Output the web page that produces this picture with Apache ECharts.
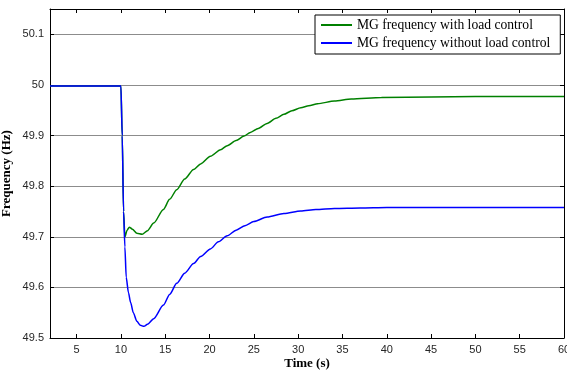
<!DOCTYPE html>
<html>
<head>
<meta charset="utf-8">
<script src="https://cdn.jsdelivr.net/npm/echarts@6/dist/echarts.min.js"></script>
<style>
html,body{margin:0;padding:0;background:#fff;}
#c{width:567px;height:370px;}
</style>
</head>
<body>
<div id="c"></div>
<script>
const seriesNames = ['MG frequency with load control', 'MG frequency without load control'];
const xTitle = 'Time (s)';
const yTitle = 'Frequency (Hz)';

const greenT = [2, 10.0, 10.15, 10.3, 10.45, 10.7, 10.95, 11.3, 11.8, 12.4, 13.0, 13.7, 14.8, 15.5, 16.3, 17.2, 18.2, 19.0, 20.1, 21.25, 22.0, 23.0, 23.9, 24.6, 25.5, 26.5, 27.5, 28.4, 29.3, 30.3, 31.2, 32.2, 34.1, 36.0, 39.4, 45, 50, 60];
const greenF = [49.998, 49.998, 49.9, 49.75, 49.700, 49.713, 49.719, 49.715, 49.707, 49.705, 49.712, 49.727, 49.754, 49.774, 49.793, 49.814, 49.833, 49.844, 49.859, 49.872, 49.880, 49.890, 49.899, 49.906, 49.914, 49.924, 49.934, 49.942, 49.949, 49.955, 49.959, 49.963, 49.968, 49.972, 49.975, 49.976, 49.977, 49.977];

const blueT = [2, 10.0, 10.15, 10.3, 10.45, 10.6, 10.85, 11.1, 11.4, 11.8, 12.2, 12.6, 13.0, 13.7, 14.8, 15.5, 16.3, 17.2, 18.2, 19.0, 20.1, 21.0, 22.0, 23.0, 24.0, 25.0, 26.5, 28.4, 30.3, 32.0, 34.1, 37.0, 40, 50, 60];
const blueF = [49.998, 49.998, 49.9, 49.75, 49.68, 49.62, 49.59, 49.57, 49.55, 49.533, 49.525, 49.523, 49.527, 49.538, 49.565, 49.586, 49.608, 49.628, 49.647, 49.661, 49.676, 49.690, 49.702, 49.713, 49.722, 49.730, 49.739, 49.746, 49.751, 49.754, 49.756, 49.757, 49.758, 49.758, 49.758];

const xRange = [2, 60];
const yRange = [49.5, 50.15];
const yStep = 0.1;

const chart = echarts.init(document.getElementById('c'));
const pairs = (t, f) => t.map((v, i) => [v, f[i]]);
const labelFont = {color: '#262626', fontSize: 11, fontFamily: 'Liberation Sans, Arial, sans-serif'};
const fmtY = v => (Math.abs(v * 10 - Math.round(v * 10)) < 1e-6 && v <= 50.1 + 1e-9) ? (Math.round(v * 10) / 10).toString() : '';
const fmtX = v => (v % 5 === 0) ? String(v) : '';

chart.setOption({
  animation: false,
  backgroundColor: '#fff',
  grid: {left: 50, right: 3, top: 9, bottom: 32, containLabel: false, outerBoundsMode: 'none'},
  legend: {
    orient: 'vertical', left: 315, top: 15,
    padding: [3, 10, 4, 6], itemGap: 4,
    backgroundColor: '#fff', borderColor: '#000', borderWidth: 1, borderRadius: 0,
    icon: 'rect', itemWidth: 31, itemHeight: 2,
    textStyle: {fontFamily: 'Liberation Serif, Times New Roman, serif', fontSize: 13.6, color: '#000', lineHeight: 14},
    data: seriesNames
  },
  xAxis: [{
    type: 'value', min: xRange[0], max: xRange[1], splitNumber: 12,
    name: xTitle, nameLocation: 'middle', nameGap: 19, nameMoveOverlap: false,
    nameTextStyle: {fontFamily: 'Liberation Serif, Times New Roman, serif', fontWeight: 'bold', fontSize: 13, color: '#000', verticalAlign: 'top'},
    axisLine: {show: true, onZero: false, lineStyle: {color: '#000', width: 1}},
    axisTick: {show: true, inside: true, length: 4, lineStyle: {color: '#000'}},
    axisLabel: Object.assign({margin: 6, formatter: fmtX, showMinLabel: false}, labelFont),
    splitLine: {show: false}
  }, {
    type: 'value', min: xRange[0], max: xRange[1], splitNumber: 12, position: 'top',
    axisLine: {show: true, onZero: false, lineStyle: {color: '#000', width: 1}},
    axisTick: {show: true, inside: true, length: 4, lineStyle: {color: '#000'}},
    axisLabel: {show: false}, splitLine: {show: false}
  }],
  yAxis: [{
    type: 'value', min: yRange[0], max: yRange[1], interval: yStep,
    name: yTitle, nameLocation: 'middle', nameGap: 37, nameRotate: 90, nameMoveOverlap: false,
    nameTextStyle: {fontFamily: 'Liberation Serif, Times New Roman, serif', fontWeight: 'bold', fontSize: 13, color: '#000'},
    axisLine: {show: true, onZero: false, lineStyle: {color: '#000', width: 1}},
    axisTick: {show: true, inside: true, length: 4, lineStyle: {color: '#000'}},
    axisLabel: Object.assign({margin: 6, formatter: fmtY}, labelFont),
    splitLine: {show: true, lineStyle: {color: '#8c8c8c', width: 1}}
  }, {
    type: 'value', min: yRange[0], max: yRange[1], interval: yStep, position: 'right',
    axisLine: {show: true, onZero: false, lineStyle: {color: '#000', width: 1}},
    axisTick: {show: true, inside: true, length: 4, lineStyle: {color: '#000'}},
    axisLabel: {show: false}, splitLine: {show: false}
  }],
  series: [{
    name: seriesNames[0], type: 'line', xAxisIndex: 0, yAxisIndex: 0,
    data: pairs(greenT, greenF), showSymbol: false, symbol: 'none',
    smooth: 0.25, smoothMonotone: 'x',
    lineStyle: {color: '#008000', width: 1.5}, itemStyle: {color: '#008000'}
  }, {
    name: seriesNames[1], type: 'line', xAxisIndex: 0, yAxisIndex: 0,
    data: pairs(blueT, blueF), showSymbol: false, symbol: 'none',
    smooth: 0.25, smoothMonotone: 'x',
    lineStyle: {color: '#0000ff', width: 1.5}, itemStyle: {color: '#0000ff'}
  }]
});
</script>
</body>
</html>
